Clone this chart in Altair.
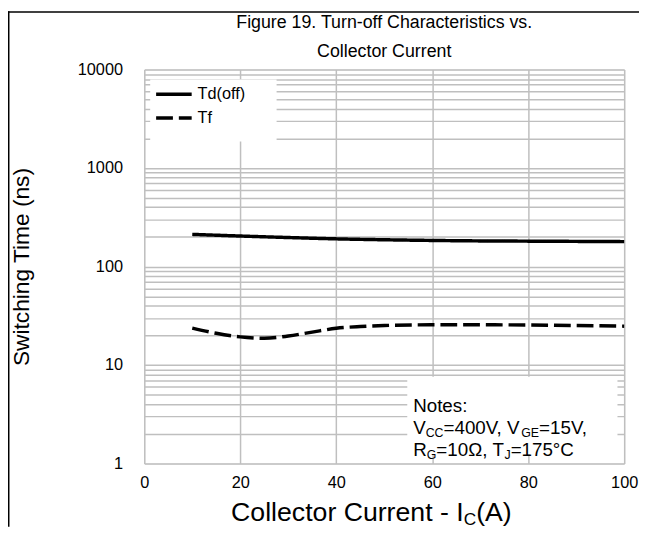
import math
import altair as alt
import pandas as pd

# ---------------- data ----------------
series_names = ["Td(off)", "Tf"]
x_td = [10, 20, 30, 40, 50, 60, 70, 80, 90, 100]
td_off = [212, 204, 197, 191, 187, 184, 182, 181, 180, 179]
x_tf = [10, 15, 20, 25, 30, 35, 40, 45, 50, 60, 70, 80, 90, 100]
tf = [23.7, 21.0, 19.3, 18.7, 19.7, 21.6, 23.6, 24.6, 25.2, 25.6, 25.6, 25.5, 25.2, 24.8]

x_ticks = [0, 20, 40, 60, 80, 100]
y_major = [1, 10, 100, 1000, 10000]
y_grid = [m * d for d in [1, 10, 100, 1000] for m in range(1, 10)] + [10000]

notes_box = {"x": 54.8, "x2": 98.6, "y": 7.6, "y2": 1.24}

title_lines = ["Figure 19. Turn-off Characteristics vs.", "Collector Current"]
y_title = "Switching Time (ns)"
x_title_parts = [("Collector Current - I", 0), ("C", 1), ("(A)", 0)]
notes_lines = [
    [("Notes:", 0)],
    [("V", 0), ("CC", 1), ("=400V, V", 0), ("GE", 1), ("=15V,", 0)],
    [("R", 0), ("G", 1), ("=10\u03a9, T", 0), ("J", 1), ("=175\u00b0C", 0)],
]

# ---------------- layout ----------------
FONT = "Liberation Sans, Arial, sans-serif"
W, H = 486, 399
PAD = {"left": 138, "top": 59, "right": 15, "bottom": 64}
GRID = "#bfbfbf"
TICK_FS = 16.5
LEG_FS = 16.5
NOTE_FS, NOTE_SUB = 19, 12.5
XT_FS, XT_SUB = 27, 17.5
YT_FS = 23
TITLE_FS = 18

# Arial advance widths (em)
AW = {"N": .722, "o": .556, "t": .278, "e": .556, "s": .5, ":": .278, "V": .667,
      "C": .722, "=": .584, "0": .556, "1": .556, "4": .556, "5": .556, "7": .556,
      ",": .278, " ": .278, "G": .778, "E": .667, "R": .722, "\u03a9": .768,
      "T": .611, "J": .5, "\u00b0": .4, "l": .222, "c": .5, "r": .333, "u": .556,
      "n": .556, "-": .333, "I": .278, "(": .333, ")": .333, "A": .667}


def tw(s, fs):
    return sum(AW.get(ch, .556) for ch in s) * fs


def segments(parts, x0, y_base, fs, fs_sub, sub_drop):
    rows, x = [], x0
    for txt, sub in parts:
        f = fs_sub if sub else fs
        rows.append({"text": txt, "px": x, "py": y_base + (sub_drop if sub else 0), "fs": f})
        x += tw(txt, f)
    return rows


df = pd.DataFrame(
    [{"x": a, "t": b, "series": series_names[0]} for a, b in zip(x_td, td_off)]
    + [{"x": a, "t": b, "series": series_names[1]} for a, b in zip(x_tf, tf)]
)

dash_scale = alt.Scale(domain=series_names, range=[[1, 0], [17, 6]])
xs = alt.Scale(domain=[0, 100], nice=False, zero=False)
ys = alt.Scale(type="log", domain=[1, 10000], nice=False)

x_axis = alt.Axis(values=x_ticks, title=None, grid=True, gridColor=GRID, gridWidth=1.5,
                  ticks=False, domain=False, labelFontSize=TICK_FS, labelFont=FONT,
                  labelColor="black", labelPadding=11, labelFlush=False)
y_axis = alt.Axis(values=y_grid, title=y_title, grid=True, gridColor=GRID, gridWidth=1.5,
                  ticks=False, domain=False, labelFontSize=TICK_FS, labelFont=FONT,
                  labelColor="black", labelPadding=22, labelFlush=False,
                  labelOverlap=False, format="d",
                  labelExpr="indexof([1,10,100,1000,10000], datum.value) >= 0 ? datum.label : ''",
                  titleFont=FONT, titleFontSize=YT_FS, titleFontWeight="normal",
                  titleColor="black", titleX=-112, titleY=H / 2, titleAlign="center",
                  titleBaseline="bottom", titleAngle=270)

notes_rect = alt.Chart(pd.DataFrame([notes_box])).mark_rect(fill="white").encode(
    x=alt.X("x:Q", scale=xs, axis=x_axis), x2="x2:Q",
    y=alt.Y("y:Q", scale=ys, axis=y_axis), y2="y2:Q")

lines = alt.Chart(df).mark_line(strokeWidth=3.5, interpolate="monotone", color="black").encode(
    x=alt.X("x:Q", scale=xs, axis=x_axis),
    y=alt.Y("t:Q", scale=ys, axis=y_axis),
    strokeDash=alt.StrokeDash("series:N", scale=dash_scale, legend=None),
)

# legend (box + sample lines + labels)
LX, LY = 6, 10
leg_box = alt.Chart(pd.DataFrame([{"a": LX, "b": LX + 128, "c": LY, "d": LY + 63}])).mark_rect(
    fill="white").encode(x=alt.X("a:Q", scale=None), x2="b:Q",
                         y=alt.Y("c:Q", scale=None), y2="d:Q")
leg_df = pd.DataFrame([
    {"series": s, "x1": LX + 6, "x2": LX + 42, "ly": LY + 15 + 24 * i, "tx": LX + 48}
    for i, s in enumerate(series_names)])
leg_lines = alt.Chart(leg_df).mark_rule(strokeWidth=3.5, color="black").encode(
    x=alt.X("x1:Q", scale=None), x2="x2:Q", y=alt.Y("ly:Q", scale=None),
    strokeDash=alt.StrokeDash("series:N", scale=dash_scale, legend=None))
leg_text = alt.Chart(leg_df).mark_text(align="left", baseline="middle", fontSize=LEG_FS,
                                       font=FONT, color="black").encode(
    x=alt.X("tx:Q", scale=None), y=alt.Y("ly:Q", scale=None), text="series:N")

# notes text
bx = notes_box["x"] / 100 * W
by = H * (1 - math.log10(notes_box["y"]) / 4)
note_rows = []
for i, parts in enumerate(notes_lines):
    note_rows += segments(parts, bx + 6, by + 36 + 22 * i, NOTE_FS, NOTE_SUB, 3)
text_enc = dict(x=alt.X("px:Q", scale=None), y=alt.Y("py:Q", scale=None), text="text:N",
                size=alt.Size("fs:Q", scale=None))
notes_text = alt.Chart(pd.DataFrame(note_rows)).mark_text(
    align="left", baseline="alphabetic", font=FONT, color="black").encode(**text_enc)

# x-axis title with subscript
tot = sum(tw(t, XT_SUB if s else XT_FS) for t, s in x_title_parts)
xt_rows = segments(x_title_parts, W / 2 - 13 - tot / 2, H + 58, XT_FS, XT_SUB, 4)
x_title = alt.Chart(pd.DataFrame(xt_rows)).mark_text(
    align="left", baseline="alphabetic", font=FONT, color="black").encode(**text_enc)

# chart title (two centred lines)
title_df = pd.DataFrame([{"text": t, "px": W / 2, "py": -47 + 29 * i, "fs": TITLE_FS}
                         for i, t in enumerate(title_lines)])
title = alt.Chart(title_df).mark_text(align="center", baseline="middle", font=FONT,
                                      color="black").encode(**text_enc)

# frame lines (left and top of the figure box)
frame_df = pd.DataFrame([
    {"a": -PAD["left"] + 0.75, "b": -PAD["left"] + 0.75, "c": -PAD["top"], "d": H + PAD["bottom"]},
    {"a": -PAD["left"], "b": W + PAD["right"], "c": -PAD["top"] + 0.75, "d": -PAD["top"] + 0.75},
])
frame = alt.Chart(frame_df).mark_rule(color="black", strokeWidth=1.5).encode(
    x=alt.X("a:Q", scale=None), x2="b:Q", y=alt.Y("c:Q", scale=None), y2="d:Q")

chart = alt.layer(notes_rect, leg_box, lines, leg_lines, leg_text, notes_text, x_title,
                  title, frame).properties(
    width=W, height=H,
    padding=PAD,
    autosize=alt.AutoSizeParams(type="none"),
).configure_view(stroke=None).configure(background="white")

chart.save("out.html", embed_options={"renderer": "svg", "actions": False})
